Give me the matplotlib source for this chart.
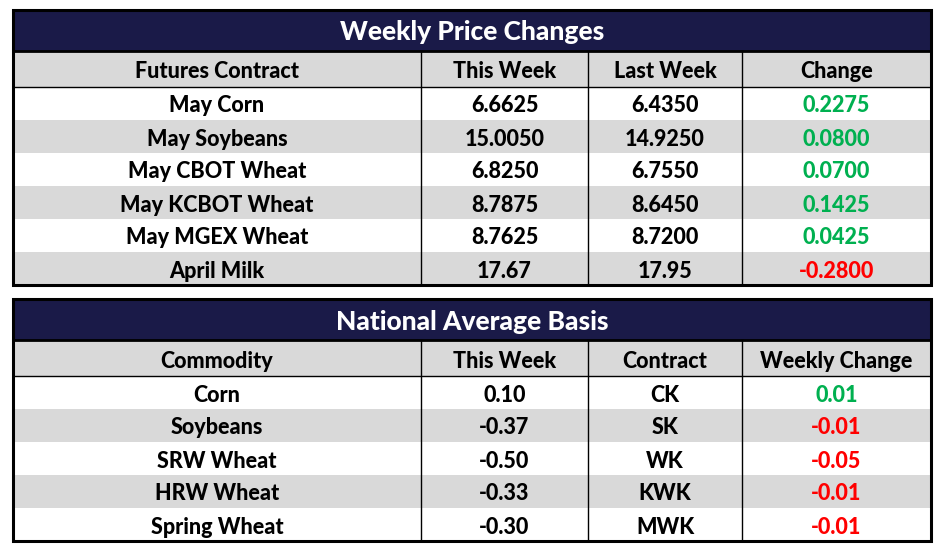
"""Weekly price changes and national average basis tables."""

import matplotlib

matplotlib.use("Agg")
import matplotlib.pyplot as plt
from matplotlib.patches import Rectangle

plt.rcParams["font.family"] = ["Lato", "DejaVu Sans"]

# --- data ---------------------------------------------------------------
price_title = "Weekly Price Changes"
price_header = ["Futures Contract", "This Week", "Last Week", "Change"]
contracts = ["May Corn", "May Soybeans", "May CBOT Wheat", "May KCBOT Wheat",
             "May MGEX Wheat", "April Milk"]
this_week = [6.6625, 15.0050, 6.8250, 8.7875, 8.7625, 17.67]
last_week = [6.4350, 14.9250, 6.7550, 8.6450, 8.7200, 17.95]
change = [0.2275, 0.0800, 0.0700, 0.1425, 0.0425, -0.2800]
price_decimals = [4, 4, 4, 4, 4, 2]

basis_title = "National Average Basis"
basis_header = ["Commodity", "This Week", "Contract", "Weekly Change"]
commodities = ["Corn", "Soybeans", "SRW Wheat", "HRW Wheat", "Spring Wheat"]
basis_this_week = [0.10, -0.37, -0.50, -0.33, -0.30]
basis_contract = ["CK", "SK", "WK", "KWK", "MWK"]
basis_change = [0.01, -0.01, -0.05, -0.01, -0.01]

# --- style --------------------------------------------------------------
NAVY = "#1a1a48"
GRAY = "#d9d9d9"
GREEN = "#00b050"
RED = "#ff0000"
COL_X = [13, 421, 588, 742, 931]
TITLE_H = 41
HEAD_H = 36
ROW_H = 33
WEIGHT = "black"


def draw_table(ax, top, title, header, rows, change_vals):
    left, right = COL_X[0], COL_X[-1]
    # title band
    ax.add_patch(Rectangle((left, top), right - left, TITLE_H, color=NAVY, lw=0))
    ax.text((left + right) / 2, top + TITLE_H / 2 + 2, title, color="white",
            fontsize=19, fontweight=WEIGHT, ha="center", va="center")
    y = top + TITLE_H
    # header
    ax.add_patch(Rectangle((left, y), right - left, HEAD_H, color=GRAY, lw=0))
    for i, h in enumerate(header):
        ax.text((COL_X[i] + COL_X[i + 1]) / 2, y + HEAD_H / 2 + 3, h,
                fontsize=15.5, fontweight=WEIGHT, ha="center", va="center",
                color="black")
    ax.plot([left, right], [y, y], color="black", lw=2)
    y += HEAD_H
    ax.plot([left, right], [y, y], color="black", lw=1)
    for r, row in enumerate(rows):
        if r % 2 == 1:
            ax.add_patch(Rectangle((left, y), right - left, ROW_H, color=GRAY,
                                   lw=0, zorder=0))
        for i, cell in enumerate(row):
            color = "black"
            if i == 3:
                color = GREEN if change_vals[r] >= 0 else RED
            ax.text((COL_X[i] + COL_X[i + 1]) / 2, y + ROW_H / 2 + 2.5, cell,
                    fontsize=15.5, fontweight=WEIGHT, ha="center",
                    va="center", color=color)
        y += ROW_H
    bottom = y
    for x in COL_X[1:-1]:
        ax.plot([x, x], [top + TITLE_H, bottom], color="black", lw=1)
    ax.add_patch(Rectangle((left, top), right - left, bottom - top,
                           fill=False, ec="black", lw=2.2, zorder=5))


fig = plt.figure(figsize=(9.44, 5.51), dpi=100)
ax = fig.add_axes([0, 0, 1, 1])
ax.set_xlim(0, 944)
ax.set_ylim(551, 0)
ax.axis("off")

price_rows = []
for name, tw, lw_, ch, d in zip(contracts, this_week, last_week, change,
                                price_decimals):
    price_rows.append([name, f"{tw:.{d}f}", f"{lw_:.{d}f}", f"{ch:.4f}"])
draw_table(ax, 10, price_title, price_header, price_rows, change)

basis_rows = []
for name, tw, c, ch in zip(commodities, basis_this_week, basis_contract,
                           basis_change):
    basis_rows.append([name, f"{tw:.2f}", c, f"{ch:.2f}"])
draw_table(ax, 299, basis_title, basis_header, basis_rows, basis_change)

fig.savefig("out.png", dpi=100)
